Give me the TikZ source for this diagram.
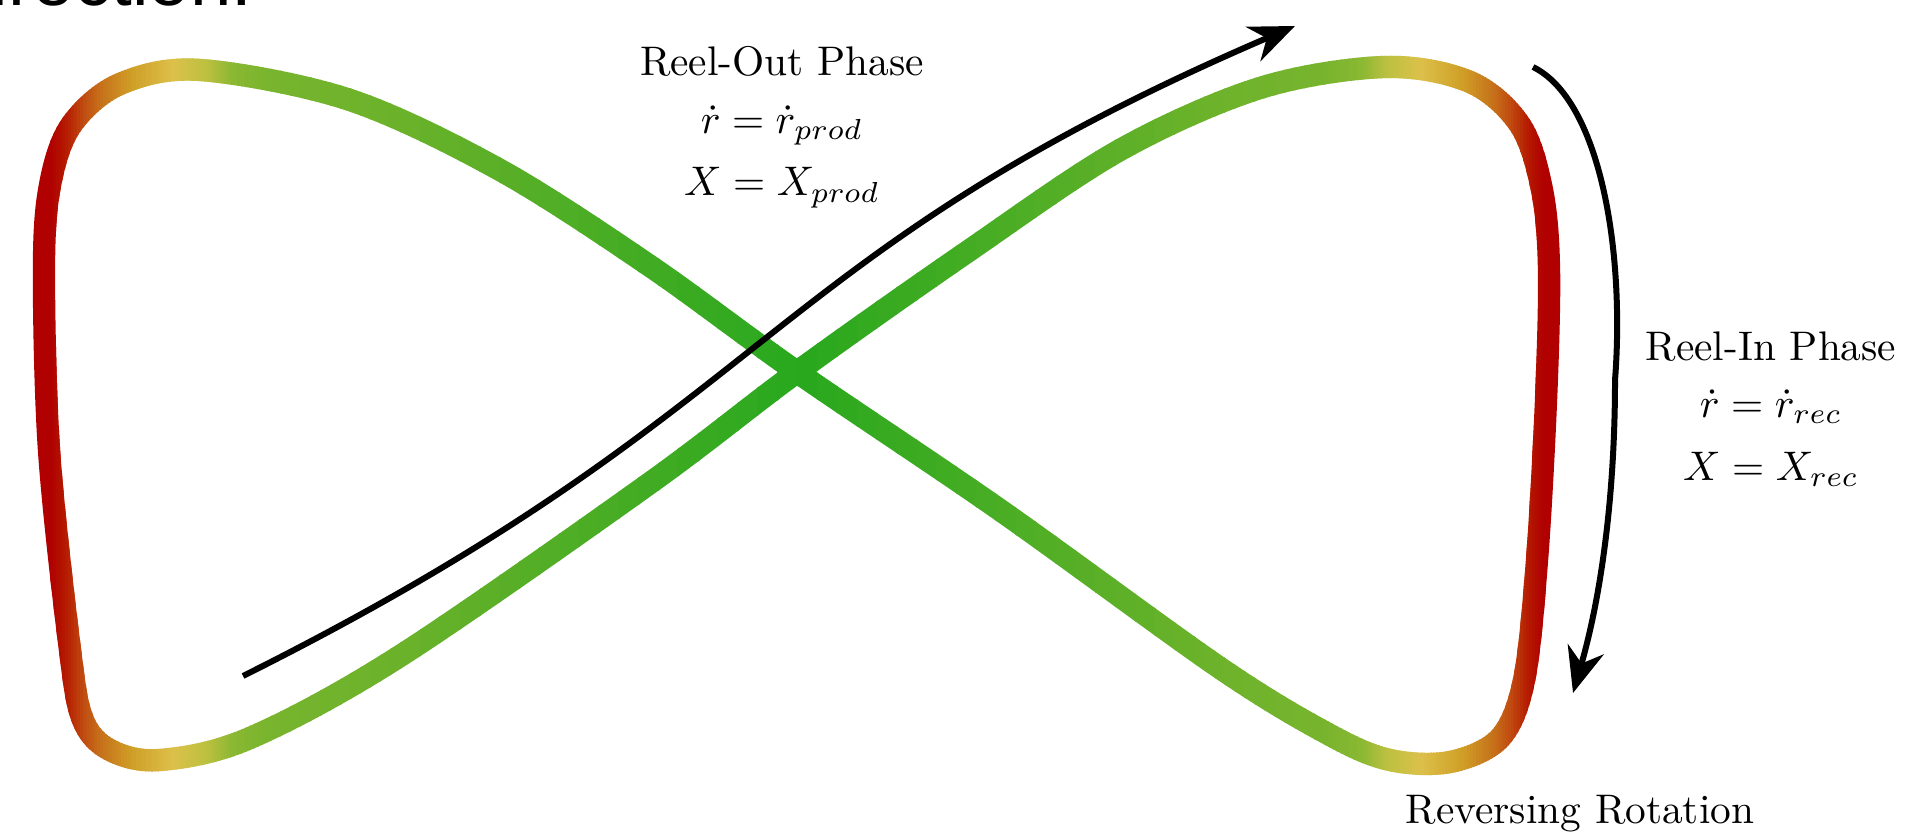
\documentclass[tikz,border=0pt]{standalone}
\usepackage{fontspec}
\newfontfamily\slidefont{Liberation Sans}
\usepackage{tikz}
\usetikzlibrary{arrows.meta}
\usepackage{xcolor}
\definecolor{rimred}{RGB}{176,0,0}
\definecolor{rimscarlet}{RGB}{180,24,0}
\definecolor{rimrust}{RGB}{192,74,16}
\definecolor{rimamber}{RGB}{198,112,26}
\definecolor{rimgold}{RGB}{208,160,40}
\definecolor{rimyellow}{RGB}{220,192,74}
\definecolor{rimlime}{RGB}{188,192,64}
\definecolor{rimleaf}{RGB}{138,184,50}
\definecolor{rimgrass}{RGB}{120,180,46}
\definecolor{rimmoss}{RGB}{106,178,42}
\definecolor{rimcore}{RGB}{40,168,30}
\tikzset{
  rim/.style   = {line width=5.4pt, line join=round},
  flow/.style  = {-{Stealth[length=11pt,width=9pt]}, line width=1.45pt},
  phase/.style = {align=center, inner sep=0pt, anchor=north},
}
% centre line of the figure eight (units of 100px, y down)
\newcommand{\eightloop}{plot[smooth cycle, tension=0.55] coordinates {
  (7.97,3.72) (9.67,2.52) (11.20,1.50) (12.60,0.88) (13.85,0.67)
  (14.70,0.82) (15.20,1.25) (15.42,1.90) (15.49,2.70) (15.46,4.00)
  (15.37,5.60) (15.24,6.80) (15.00,7.38) (14.50,7.62) (13.90,7.60)
  (13.30,7.35) (12.20,6.68) (10.00,5.10)
  (7.97,3.72) (6.50,2.66) (5.00,1.70) (3.50,1.00) (2.00,0.70)
  (1.20,0.84) (0.72,1.24) (0.51,1.80) (0.44,2.63) (0.49,4.50)
  (0.70,6.50) (0.83,7.20) (1.10,7.50) (1.60,7.60) (2.50,7.38)
  (4.00,6.56) (6.50,4.83)}}

\begin{document}
\begin{tikzpicture}[x=0.85cm,y=-0.85cm]
\useasboundingbox (0,0) rectangle (19.15,8.37);

% the loop, coloured strip by strip from the rims to the middle
\foreach \xa/\xb/\ca/\cb/\n in {
    0/50/rimred/rimred/1, 50/65/rimred/rimscarlet/5,
    65/83/rimscarlet/rimrust/6, 83/100/rimrust/rimamber/6,
    100/133/rimamber/rimgold/11, 133/173/rimgold/rimyellow/13,
    173/207/rimyellow/rimlime/11, 207/233/rimlime/rimleaf/9,
    233/270/rimleaf/rimgrass/9, 270/400/rimgrass/rimmoss/13,
    400/797/rimmoss/rimcore/20, 797/1194/rimcore/rimmoss/20,
    1194/1324/rimmoss/rimgrass/13, 1324/1361/rimgrass/rimleaf/9,
    1361/1387/rimleaf/rimlime/9, 1387/1421/rimlime/rimyellow/11,
    1421/1461/rimyellow/rimgold/13, 1461/1494/rimgold/rimamber/11,
    1494/1511/rimamber/rimrust/6, 1511/1529/rimrust/rimscarlet/6,
    1529/1544/rimscarlet/rimred/5, 1544/1915/rimred/rimred/1}{
  \foreach \k in {1,...,\n}{
    \pgfmathsetmacro{\sl}{\xa+(\xb-\xa)*(\k-1)/\n}
    \pgfmathsetmacro{\sr}{\xa+(\xb-\xa)*\k/\n+1.5}
    \pgfmathtruncatemacro{\mix}{100*(\k-0.5)/\n}
    \begin{scope}
      \clip (\sl/100,-0.5) rectangle (\sr/100,9);
      \draw[rim, color=\cb!\mix!\ca] \eightloop;
    \end{scope}
  }
}

% flow arrows
\coordinate (outstart) at (2.43,6.76);
\coordinate (outend)   at (12.95,0.26);
\coordinate (instart)  at (15.33,0.67);
\coordinate (inmid)    at (16.15,3.80);
\coordinate (inend)    at (15.73,6.93);
\draw[flow] (outstart) .. controls (7.83,4.06) and (7.55,2.58) .. (outend);
\draw[flow] (instart) .. controls (16.00,1.00) and (16.25,2.50) .. (inmid)
            .. controls (16.15,5.00) and (16.00,6.00) .. (inend);

% labels
\node[phase] (reelout) at (7.82,0.46)
  {Reel-Out Phase\\[1.8pt] $\dot{r} = \dot{r}_{prod}$\\[3.2pt] $X = X_{prod}$};
\node[phase] (reelin) at (17.71,3.31)
  {Reel-In Phase\\[1.8pt] $\dot{r} = \dot{r}_{rec}$\\[3.2pt] $X = X_{rec}$};
\node[anchor=base, inner sep=0pt] (reversing) at (15.80,8.23) {Reversing Rotation};
\node[anchor=base east, inner sep=0pt, font=\slidefont\fontsize{18}{21}\selectfont]
  (direction) at (2.53,0.055) {direction.};
\end{tikzpicture}
\end{document}
